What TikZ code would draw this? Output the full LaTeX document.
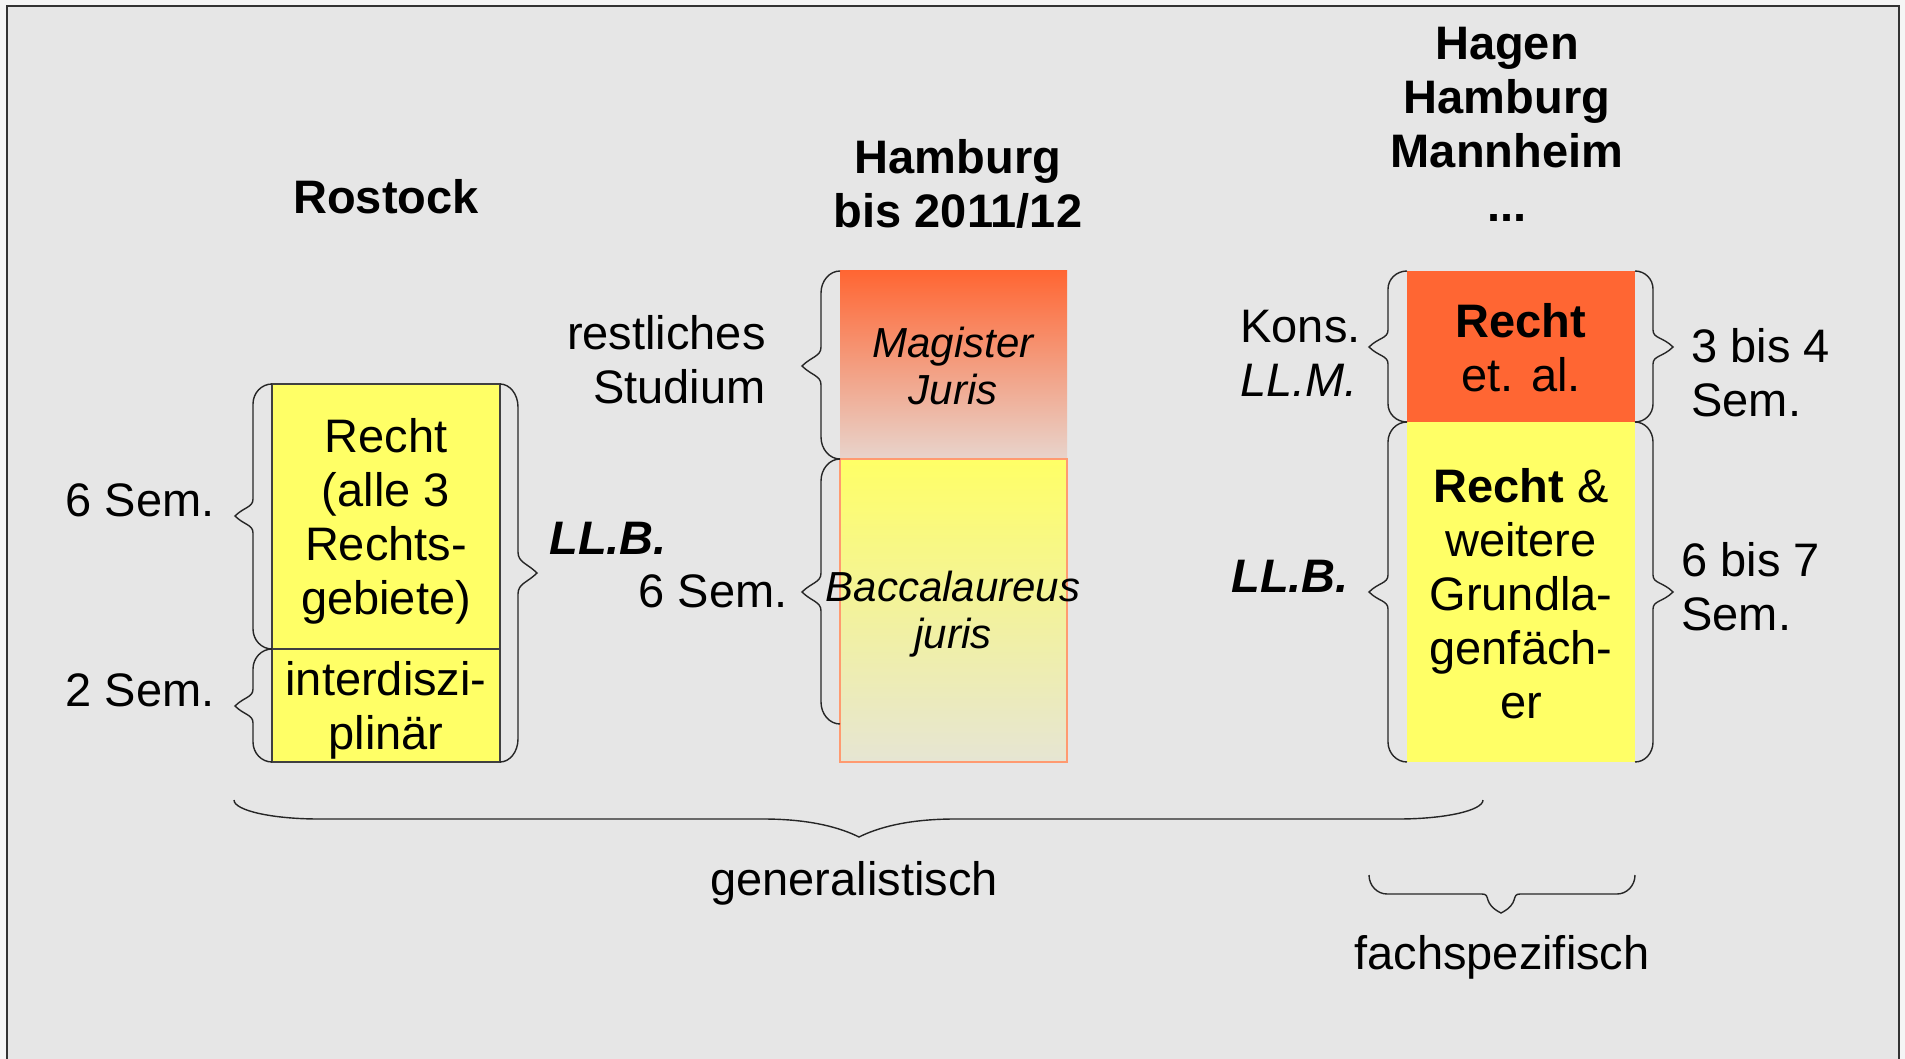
\documentclass[tikz,border=0pt]{standalone}
\usepackage{fontspec}
\setmainfont{Liberation Sans}
\definecolor{outer}{HTML}{F5F5F5}
\definecolor{bg}{HTML}{E6E6E6}
\definecolor{yel}{HTML}{FFFF66}
\definecolor{org}{HTML}{FF6633}
\definecolor{orgfade}{HTML}{E8D4CC}
\definecolor{yelfade}{HTML}{E6E5D3}
\definecolor{orgline}{HTML}{FF9A70}
% vertical brace: xend, xstem, xtip, ytop, ytip, ybottom, end radius, tip length
\newcommand{\mybrV}[8]{\draw[brc] (#1,#4) .. controls ({#1+0.552*(#2-#1)},#4) and (#2,{#4+0.448*#7}) .. (#2,{#4+#7})
 -- (#2,{#5-#8}) .. controls (#2,{#5-0.5*#8}) and ({#3+0.5*(#2-#3)},{#5-0.5*abs(#2-#3)}) .. (#3,#5)
 .. controls ({#3+0.5*(#2-#3)},{#5+0.5*abs(#2-#3)}) and (#2,{#5+0.5*#8}) .. (#2,{#5+#8})
 -- (#2,{#6-#7}) .. controls (#2,{#6-0.448*#7}) and ({#1+0.552*(#2-#1)},#6) .. (#1,#6);}
% horizontal brace: xleft, xright, yend, ystem, ytip, xtip, end radius, tip length
\newcommand{\mybrH}[8]{\draw[brc] (#1,#3) .. controls (#1,{#3+0.552*(#4-#3)}) and ({#1+0.448*#7},#4) .. ({#1+#7},#4)
 -- ({#6-#8},#4) .. controls ({#6-0.5*#8},#4) and ({#6-(#5-#4)},{#5-0.5*(#5-#4)}) .. (#6,#5)
 .. controls ({#6+(#5-#4)},{#5-0.5*(#5-#4)}) and ({#6+0.5*#8},#4) .. ({#6+#8},#4)
 -- ({#2-#7},#4) .. controls ({#2-0.448*#7},#4) and (#2,{#3+0.552*(#4-#3)}) .. (#2,#3);}
\begin{document}
\begin{tikzpicture}[x=0.5pt,y=-0.5pt,
  txt/.style={inner sep=0pt, font=\fontsize{23.5}{27}\selectfont},
  ttl/.style={inner sep=0pt, align=center, font=\fontsize{23.5}{27}\selectfont\bfseries},
  itx/.style={inner sep=0pt, align=center, font=\fontsize{21}{23.5}\selectfont\itshape},
  bit/.style={inner sep=0pt, font=\fontsize{23.5}{27}\selectfont\bfseries\itshape},
  brc/.style={draw=black!85, line width=0.7pt},
  frame/.style={draw=black!80, line width=0.75pt, fill=bg}]
\useasboundingbox (0,0) rectangle (1905,1059);
\fill[outer] (0,0) rectangle (1905,1059);
\draw[frame] (7,6) rectangle (1899,1080);

% titles
\node[ttl] (tRostock) at (386,197) {Rostock};
\node[ttl] (tHamburg) at (958,184) {Hamburg\\bis 2011/12};
\node[ttl] (tOthers) at (1507,124) {Hagen\\Hamburg\\Mannheim\\...};

% Rostock column
\filldraw[fill=yel, draw=black!75, line width=0.6pt] (272,384) rectangle (500,762);
\draw[draw=black!75, line width=0.6pt] (272,649) -- (500,649);
\node[txt, align=center] (rRecht) at (386,521) {Recht\\(alle 3\\Rechts-\\gebiete)};
\node[txt, align=center] (rInter) at (386,710) {interdiszi-\\plinär};
\mybrV{272}{253}{235}{384}{516}{649}{20}{17}
\mybrV{272}{253}{235}{649}{706}{762}{20}{17}
\mybrV{500}{518}{537}{384}{573}{762}{23}{21}
\node[txt, anchor=base east] (rSix) at (215,516) {6 Sem.};
\node[txt, anchor=base east] (rTwo) at (215,706) {2 Sem.};
\node[bit, anchor=west] (rLLB) at (549,538) {LL.B.};

% Hamburg column
\shade[top color=org, bottom color=orgfade] (840,271) rectangle (1067,459);
\shade[top color=yel, bottom color=yelfade] (840,459) rectangle (1067,762);
\draw[orgline, line width=0.6pt] (840,459) rectangle (1067,762);
\mybrV{840}{821}{802}{271}{366}{459}{22}{19}
\mybrV{840}{821}{802}{459}{592}{724}{22}{19}
\node[itx] (hMag) at (953,366) {Magister\\Juris};
\node[itx] (hBac) at (953,614) {Baccalaureus\\juris};
\node[txt, align=right, anchor=east] (hRest) at (766,360) {restliches\\Studium};
\node[txt, anchor=base east] (hSix) at (788,607) {6 Sem.};

% right column
\fill[org] (1407,271) rectangle (1635,422);
\fill[yel] (1407,422) rectangle (1635,762);
\mybrV{1407}{1388}{1369}{271}{347}{422}{18}{17}
\mybrV{1407}{1388}{1369}{422}{592}{762}{20}{17}
\mybrV{1635}{1653}{1673}{271}{347}{422}{18}{17}
\mybrV{1635}{1653}{1673}{422}{592}{762}{20}{17}
\node[txt, align=center] (fTop) at (1521,348) {\textbf{Recht}\\et. al.};
\node[txt, align=center] (fBot) at (1521,594) {\textbf{Recht} \&\\weitere\\Grundla-\\genfäch-\\er};
\node[txt, align=left, anchor=west] (fKons) at (1240,353) {Kons.\\\textit{LL.M.}};
\node[bit, anchor=west] (fLLB) at (1231,576) {LL.B.};
\node[txt, align=left, anchor=west] (fThree) at (1691,373) {3 bis 4\\Sem.};
\node[txt, align=left, anchor=west] (fSixSeven) at (1681,587) {6 bis 7\\Sem.};

% bottom braces
\mybrH{234}{1483}{800}{819}{837}{859}{85}{96}
\node[txt, anchor=base] (gen) at (854,895) {generalistisch};
\mybrH{1369}{1635}{875}{894}{913}{1501}{18}{19}
\node[txt, anchor=base] (fach) at (1502,969) {fachspezifisch};
\end{tikzpicture}
\end{document}
